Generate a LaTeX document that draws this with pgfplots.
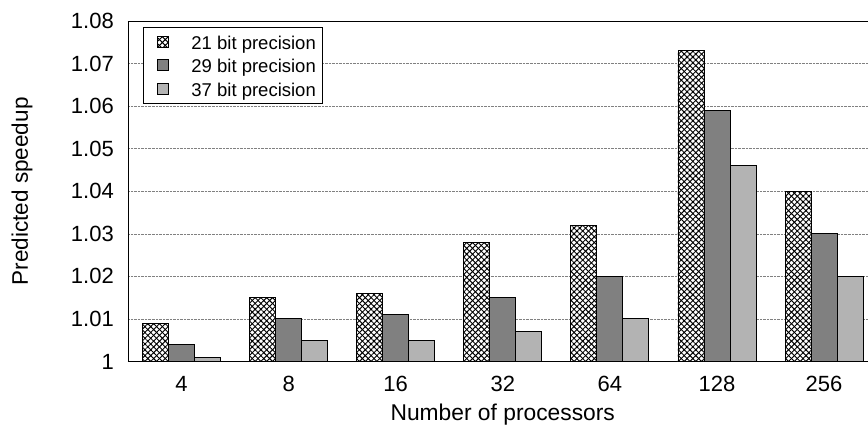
\documentclass[border=0pt]{standalone}
\usepackage{pgfplots}
\pgfplotsset{compat=1.18}
\usepackage{fontspec}
\setmainfont{Liberation Sans}
\usetikzlibrary{patterns.meta}
\definecolor{darkbar}{HTML}{808080}
\definecolor{lightbar}{HTML}{B3B3B3}
\pgfplotsset{
  mylegend/.style={legend image code/.code={
    \pgfpathmoveto{\pgfpoint{0bp}{0bp}}\pgfpathlineto{\pgfpoint{41bp}{0bp}}\pgfusepath{use as bounding box}%
    \draw[##1,draw=black,line width=0.8bp] (7bp,-5.5bp) rectangle (18bp,5.5bp);}},
  hatch/.style={preaction={fill=white},
    pattern={Lines[angle=45,distance=4.1bp,line width=0.95bp]},
    postaction={pattern={Lines[angle=-45,distance=4.1bp,line width=0.95bp]}},
    draw=black, line width=0.9bp},
}
\begin{document}
\begin{tikzpicture}
\begin{axis}[
  name=ax,
  scale only axis, width=740bp, height=340.5bp,
  xmin=-0.5, xmax=6.41, ymin=1, ymax=1.08,
  axis x line=box, axis y line=left,
  axis line style={-, line width=0.9bp},
  major tick length=0pt,
  ytick={1,1.01,1.02,1.03,1.04,1.05,1.06,1.07,1.08},
  yticklabels={1,1.01,1.02,1.03,1.04,1.05,1.06,1.07,1.08},
  xtick={0,1,2,3,4,5,6},
  xticklabels={4,8,16,32,64,128,256},
  ymajorgrids,
  grid style={densely dotted, gray, line width=0.6bp},
  tick label style={font=\fontsize{22bp}{24bp}\selectfont, inner sep=0pt},
  yticklabel style={anchor=east, xshift=-14bp},
  xticklabel style={anchor=center, yshift=-22.5bp},
  every axis y label/.style={at={(axis description cs:-0.1432,0.5)}, anchor=center, rotate=90, font=\fontsize{22.5bp}{24bp}\selectfont},
  every axis x label/.style={at={(axis description cs:0.5064,-0.157)}, anchor=center, font=\fontsize{22.8bp}{24bp}\selectfont},
  ylabel={Predicted speedup},
  xlabel={Number of processors},
  ybar, bar width=0.243,
  legend style={at={(axis description cs:0.0203,0.9824)}, anchor=north west,
    draw=black, line width=0.8bp, fill=white,
    inner xsep=7bp, inner ysep=6bp,
    font=\fontsize{18.5bp}{20bp}\selectfont,
    nodes={inner sep=0pt, text height=16bp, text depth=1bp},
    row sep=6.5bp},
  legend cell align=left,
]
\addplot[hatch, bar shift=-0.243, mylegend] coordinates {
  (0,1.009) (1,1.015) (2,1.016) (3,1.028) (4,1.032) (5,1.073) (6,1.040)};
\addplot[fill=darkbar, draw=black, line width=0.9bp, bar shift=0, mylegend] coordinates {
  (0,1.004) (1,1.010) (2,1.011) (3,1.015) (4,1.020) (5,1.059) (6,1.030)};
\addplot[fill=lightbar, draw=black, line width=0.9bp, bar shift=0.243, mylegend] coordinates {
  (0,1.001) (1,1.005) (2,1.005) (3,1.007) (4,1.010) (5,1.046) (6,1.020)};
\legend{21 bit precision, 29 bit precision, 37 bit precision}
\end{axis}
\pgfresetboundingbox
\path[use as bounding box] ([shift={(-128bp,-69.5bp)}]ax.south west) rectangle ([shift={(0bp,21bp)}]ax.north east);
\end{tikzpicture}
\end{document}
